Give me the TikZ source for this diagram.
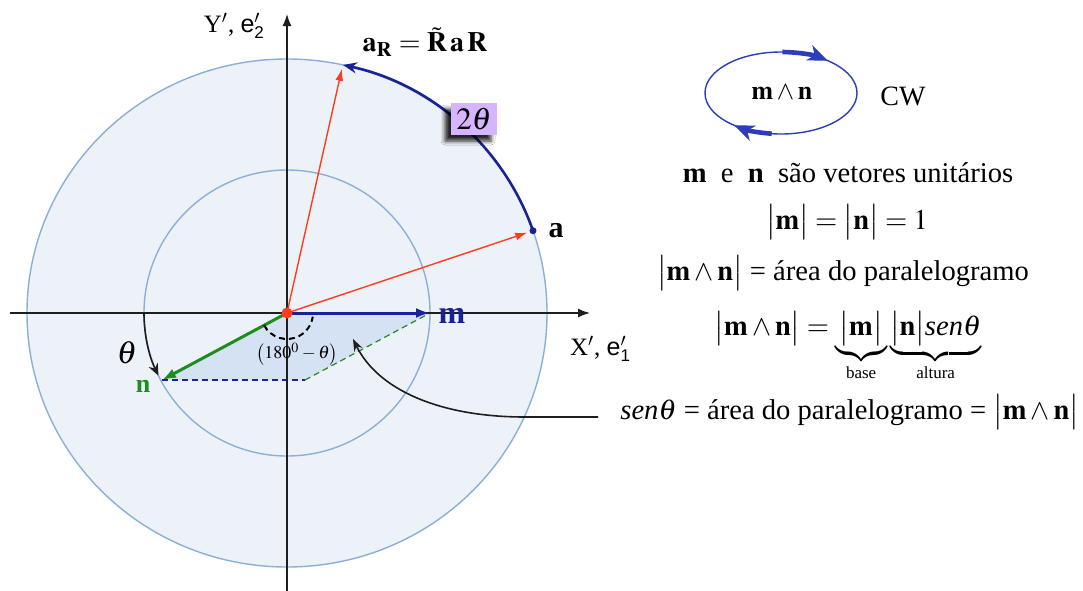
\documentclass[tikz,border=0pt]{standalone}
\usepackage{mathptmx}
\usepackage{amsmath}
\usepackage{fontspec}
\setmainfont{Liberation Serif}
\newfontfamily\hsans{Liberation Sans}
\usetikzlibrary{arrows.meta,shadows,shadows.blur,calc}
\definecolor{bigfill}{RGB}{237,242,249}
\definecolor{circline}{RGB}{140,175,215}
\definecolor{parafill}{RGB}{212,226,243}
\definecolor{redv}{RGB}{255,60,30}
\definecolor{navy}{RGB}{25,35,150}
\definecolor{ellblue}{RGB}{45,60,185}
\definecolor{greenv}{RGB}{30,140,30}
\definecolor{purplebox}{RGB}{215,180,255}
\definecolor{axisc}{RGB}{30,30,30}
\tikzset{
  circ/.style={draw=circline, line width=0.7pt},
  axis/.style={draw=axisc, line width=0.7pt, -{Latex[length=6pt,width=4.5pt]}},
  redvec/.style={draw=redv, line width=0.7pt, -{Latex[length=6pt,width=4pt]}},
  bigvec/.style={line width=1.5pt, -{Latex[length=7pt,width=5pt]}},
  bluearcst/.style={draw=navy, line width=1.3pt, -{Stealth[length=7pt,width=5.5pt]}},
  thetabox/.style={fill=purplebox, minimum width=23pt, minimum height=16pt, inner sep=1pt,
     blur shadow={shadow xshift=-3pt, shadow yshift=-3pt, shadow blur radius=2pt, shadow opacity=85}},
  txt/.style={font=\fontsize{14.3}{17}\selectfont, inner sep=0pt},
  ellarrow/.style={draw=ellblue, line width=2.3pt, -{Stealth[length=10pt,width=8pt,inset=3pt]}},
}
\begin{document}
\begin{tikzpicture}[x=0.5pt,y=0.5pt]
\useasboundingbox (0,0) rectangle (1083,-590);
\fill[white] (0,0) rectangle (1083,-590);

% circles
\coordinate (O) at (287,-313);
\draw[circ, fill=bigfill] (O) ellipse [x radius=260, y radius=254];
\draw[circ] (O) circle [radius=143];

% parallelogram
\coordinate (M) at (430,-313);
\coordinate (N) at (162,-380);
\coordinate (MN) at (305,-380);
\fill[parafill] (O) -- (M) -- (MN) -- (N) -- cycle;
\draw[navy, line width=0.6pt, dash pattern=on 3pt off 2pt] (N) -- (MN);
\draw[greenv, line width=0.6pt, dash pattern=on 3pt off 2pt] (MN) -- (M);

% axes
\coordinate (XL) at (10,-313);
\coordinate (XR) at (590,-313);
\coordinate (YB) at (287,-592);
\coordinate (YT) at (287,-14);
\draw[axis] (XL) -- (XR);
\draw[axis] (YB) -- (YT);

% rotated vectors
\coordinate (A) at (533,-230.7);
\coordinate (AR) at (342.8,-64.9);
\draw[redvec, shorten >=3pt] (O) -- (A);
\draw[redvec, shorten >=2pt] (O) -- (AR);
\draw[bluearcst] (A) arc[start angle=18.9, end angle=77.6, x radius=260, y radius=254];
\fill[navy] (A) circle[radius=3.5];
\node[thetabox, font=\fontsize{15.5}{18}\selectfont] (T) at (474,-119) {$2\theta$};

% m and n
\draw[bigvec, draw=navy, fill=navy] (O) -- (M);
\draw[bigvec, draw=greenv, fill=greenv] (O) -- (N);

% theta arc
\coordinate (TS) at (144,-313);
\draw[axisc, line width=0.8pt, -{Stealth[length=6pt,width=5pt]}] (TS) arc[start angle=180, end angle=206, radius=143];
% 180-theta arc
\coordinate (DS) at ($(O)+(208:26)$);
\draw[black, line width=1pt, dash pattern=on 3pt off 2pt] (DS) arc[start angle=208, end angle=352, radius=26];
\fill[redv] (O) circle[radius=5.5];

% curved arrow
\coordinate (CS) at (598,-417);
\coordinate (CM) at (525,-417);
\coordinate (CE) at (353,-339);
\draw[axisc, line width=0.8pt, -{Stealth[length=6pt,width=4.5pt]}] (CS) -- (CM) .. controls (440,-417) and (378,-390) .. (CE);

% labels on the figure
\node[font=\fontsize{16}{18}\selectfont\bfseries, text=navy] (mlab) at (452,-316) {m};
\node[font=\fontsize{13}{16}\selectfont\bfseries, text=greenv] (nlab) at (143,-386) {n};
\node[font=\fontsize{16}{18}\selectfont] (thlab) at (127,-353) {$\theta$};
\node[font=\fontsize{15}{18}\selectfont\bfseries] (alab) at (556,-231) {a};
\node[font=\fontsize{9}{11}\selectfont] (anglab) at (297,-354) {$\bigl(180^{0}-\theta\bigr)$};
\node[font=\fontsize{14}{16}\selectfont] (arlab) at (425,-42) {$\mathbf{a}_{\mathbf{R}}=\tilde{\mathbf{R}}\,\mathbf{a}\,\mathbf{R}$};
\node[font=\fontsize{12.5}{14}\selectfont, anchor=east] (ylab) at (272,-26) {Y$'$, {\hsans e}$'_{\mbox{\hsans\fontsize{8.5}{9}\selectfont 2}}$};
\node[font=\fontsize{12.5}{14}\selectfont, anchor=west] (xlab) at (563,-349) {X$'$, {\hsans e}$'_{\mbox{\hsans\fontsize{8.5}{9}\selectfont 1}}$};

% orientation ellipse
\coordinate (E) at (781,-93);
\draw[ellblue, line width=0.7pt] (E) ellipse [x radius=76, y radius=41];
\coordinate (ET) at ($(E)+(89:76 and 41)$);
\coordinate (EB) at ($(E)+(263:76 and 41)$);
\draw[ellarrow] (ET) arc[start angle=89, end angle=52, x radius=76, y radius=41];
\draw[ellarrow] (EB) arc[start angle=263, end angle=232, x radius=76, y radius=41];
\node[font=\fontsize{13}{16}\selectfont] (wedge) at (782,-92) {$\mathbf{m}\wedge\mathbf{n}$};
\node[font=\fontsize{14}{16}\selectfont] (cw) at (903,-96) {CW};

% right text
\node[txt] (l1) at (848,-173) {\textbf{m}\ \ e\ \ \textbf{n}\ \ são vetores unitários};
\node[txt] (l2) at (847,-222) {$\bigl|\mathbf{m}\bigr| = \bigl|\mathbf{n}\bigr| = 1$};
\node[txt] (l3) at (843,-273) {$\bigl|\mathbf{m}\wedge\mathbf{n}\bigr|$ = área do paralelogramo};
\node[txt, anchor=north] (l4) at (848,-311) {$\bigl|\mathbf{m}\wedge\mathbf{n}\bigr| = \underbrace{\bigl|\mathbf{m}\bigr|}_{\text{\fontsize{8.5}{9}\selectfont base}}\underbrace{\bigl|\mathbf{n}\bigr|\textit{sen}\theta}_{\text{\fontsize{8.5}{9}\selectfont altura}}$};
\node[txt, anchor=west] (l5) at (620,-412) {$\textit{sen}\theta$ = área do paralelogramo = $\bigl|\mathbf{m}\wedge\mathbf{n}\bigr|$};
\end{tikzpicture}
\end{document}
